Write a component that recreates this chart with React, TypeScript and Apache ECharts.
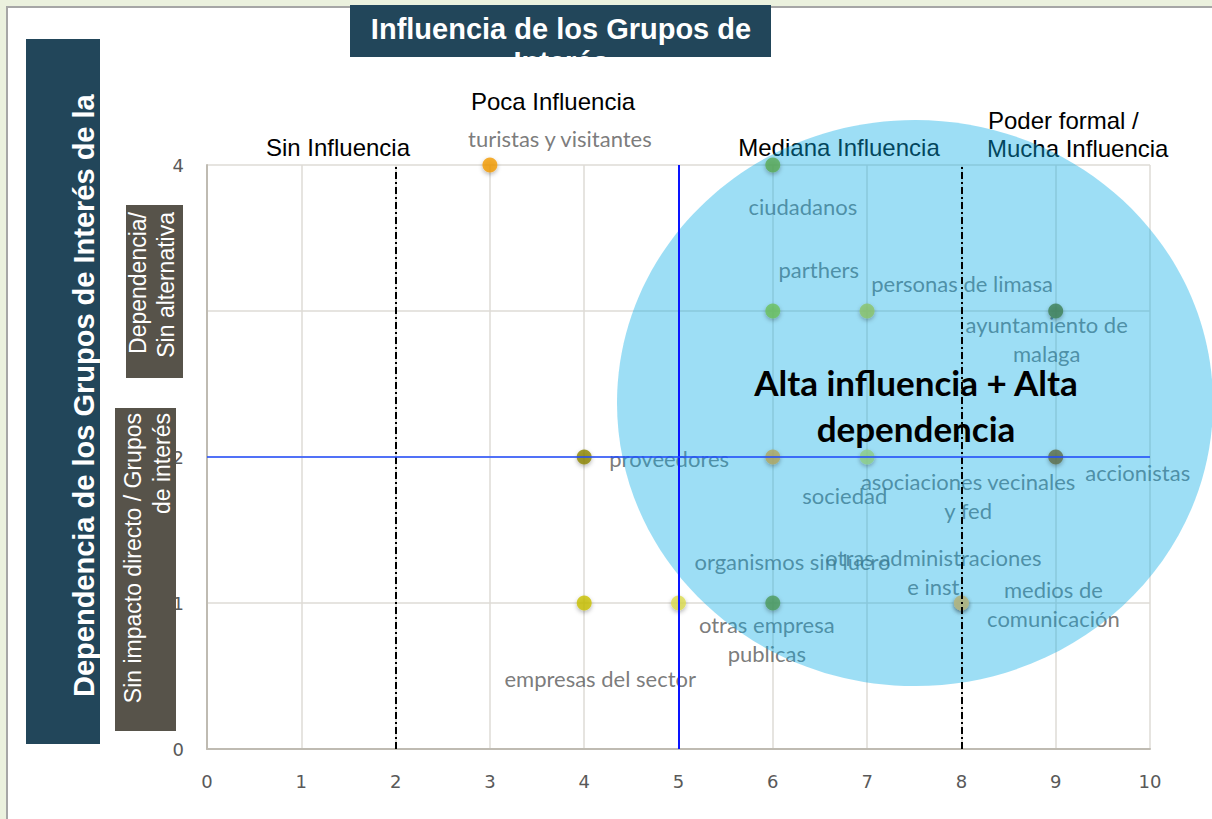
import React, { useEffect, useRef } from "react";
import * as echarts from "echarts";

// ---- data ----
const grupos = [
  "turistas y visitantes",
  "ciudadanos",
  "parthers",
  "personas de limasa",
  "ayuntamiento de\nmalaga",
  "proveedores",
  "sociedad",
  "asociaciones vecinales\ny fed",
  "accionistas",
  "empresas del sector",
  "organismos sin lucro",
  "otras empresa\npublicas",
  "otras administraciones\ne inst",
  "medios de\ncomunicación",
];
const influencia = [3, 6, 6, 7, 9, 4, 6, 7, 9, 4, 5, 6, 8, 8];
const dependencia = [4, 4, 3, 3, 3, 2, 2, 2, 2, 1, 1, 1, 1, 1];
const xTicks = [0, 1, 2, 3, 4, 5, 6, 7, 8, 9, 10];
const yTicks = [0, 1, 2, 3, 4];
const umbralesInfluencia = [2, 8];
const separadorX = 5;
const separadorY = 2;

// ---- styling (kept apart from the data) ----
const pointColors = [
  "#f39a00", "#5aaa55", "#6cc05c", "#8cc46a", "#3d8055",
  "#8c8400", "#b0a862", "#8fd08a", "#5f6e4a",
  "#c9c000", "#dcdc50", "#4e9a5c", "#b0b888", "#b0b888",
];
const labelOffsets: number[][] = [
  [70, -27], [30, 41], [46, -42], [95, -28], [-9, 28],
  [85, 1], [72, 38], [101, 39], [82, 15],
  [16, 75], [114, -42], [-6, 36], [-28, -31], [92, 1],
];

const ARIAL = "'Liberation Sans', Arial, sans-serif";
const LABEL_FONT = "Lato, 'Open Sans', sans-serif";

export default function App() {
  const ref = useRef<HTMLDivElement>(null);
  useEffect(() => {
    if (!ref.current) return;
    const chart = echarts.init(ref.current, undefined, { renderer: "svg" });

    const labelData = grupos.map((g, i) => ({
      name: g,
      value: [influencia[i], dependencia[i]],
      label: { offset: labelOffsets[i] },
    }));
    const markerData = grupos.map((g, i) => ({
      name: g,
      value: [influencia[i], dependencia[i]],
      itemStyle: { color: pointColors[i] },
    }));

    const option: any = {
      animation: false,
      backgroundColor: "transparent",
      grid: { left: 207, right: 62, top: 165, bottom: 70 },
      xAxis: {
        type: "value",
        min: xTicks[0],
        max: xTicks[xTicks.length - 1],
        interval: 1,
        axisLine: { show: true, lineStyle: { color: "#bfbbb2", width: 2 } },
        axisTick: { show: false },
        splitLine: { show: true, lineStyle: { color: "#dedbd6", width: 1.5 } },
        axisLabel: {
          margin: 23,
          color: "#595959",
          fontFamily: "'DejaVu Sans', sans-serif",
          fontSize: 18,
        },
      },
      yAxis: {
        type: "value",
        min: yTicks[0],
        max: yTicks[yTicks.length - 1],
        interval: 1,
        axisLine: { show: true, lineStyle: { color: "#bfbbb2", width: 2 } },
        axisTick: { show: false },
        splitLine: { show: true, lineStyle: { color: "#dedbd6", width: 1.5 } },
        axisLabel: {
          margin: 23,
          color: "#595959",
          fontFamily: "'DejaVu Sans', sans-serif",
          fontSize: 18,
        },
      },
      series: [
        {
          type: "scatter",
          z: 1,
          symbolSize: 1,
          itemStyle: { color: "rgba(0,0,0,0)" },
          silent: true,
          label: {
            show: true,
            position: "inside",
            formatter: "{b}",
            align: "center",
            verticalAlign: "middle",
            color: "#595959",
            fontFamily: LABEL_FONT,
            fontSize: 22,
            lineHeight: 29,
          },
          data: labelData,
          markLine: {
            silent: true,
            symbol: "none",
            label: { show: false },
            lineStyle: { color: "#000", width: 2, type: [7, 3, 2, 3] },
            data: umbralesInfluencia.map((v) => ({ xAxis: v })),
          },
        },
        {
          type: "scatter",
          z: 4,
          symbolSize: 15,
          itemStyle: {
            shadowBlur: 4,
            shadowColor: "rgba(0,0,0,0.35)",
            shadowOffsetY: 2,
          },
          data: markerData,
        },
        {
          type: "line",
          z: 5,
          data: [],
          markLine: {
            silent: true,
            symbol: "none",
            label: { show: false },
            data: [
              { xAxis: separadorX, lineStyle: { color: "#0a14ff", width: 2, type: "solid" } },
              { yAxis: separadorY, lineStyle: { color: "#1f4bff", width: 1.5, type: "solid" } },
            ],
          },
        },
      ],
      graphic: [
        // title box
        { type: "rect", z: 10, shape: { x: 350, y: 5, width: 421, height: 52 }, style: { fill: "#22465a" } },
        {
          type: "text", z: 11, x: 561, y: 12,
          style: {
            text: "Influencia de los Grupos de\nInterés",
            fill: "#fff", font: `bold 29px ${ARIAL}`, lineHeight: 33,
            align: "center", verticalAlign: "top",
          },
        },
        { type: "rect", z: 12, shape: { x: 345, y: 57, width: 432, height: 32 }, style: { fill: "#fff" } },
        // left title box
        { type: "rect", z: 10, shape: { x: 26, y: 39, width: 74, height: 705 }, style: { fill: "#22465a" } },
        {
          type: "text", z: 11, x: 84, y: 697, rotation: Math.PI / 2,
          style: {
            text: "Dependencia de los Grupos de Interés de la",
            fill: "#fff", font: `bold 29px ${ARIAL}`,
            align: "left", verticalAlign: "middle",
          },
        },
        // gray boxes
        { type: "rect", z: 10, shape: { x: 126, y: 205, width: 57, height: 173 }, style: { fill: "#57534a" } },
        {
          type: "text", z: 11, x: 152, y: 212, rotation: Math.PI / 2,
          style: {
            text: "Dependencia/\nSin alternativa",
            fill: "#fff", font: `23px ${ARIAL}`, lineHeight: 28,
            align: "right", verticalAlign: "middle",
          },
        },
        { type: "rect", z: 10, shape: { x: 115, y: 408, width: 61, height: 323 }, style: { fill: "#57534a" } },
        {
          type: "text", z: 11, x: 147.5, y: 413, rotation: Math.PI / 2,
          style: {
            text: "Sin impacto directo / Grupos\nde interés",
            fill: "#fff", font: `23px ${ARIAL}`, lineHeight: 29,
            align: "right", verticalAlign: "middle",
          },
        },
        // headers
        { type: "text", z: 2, x: 338, y: 147, style: { text: "Sin Influencia", fill: "#000", font: `24px ${ARIAL}`, align: "center", verticalAlign: "middle" } },
        { type: "text", z: 2, x: 553, y: 101, style: { text: "Poca Influencia", fill: "#000", font: `24px ${ARIAL}`, align: "center", verticalAlign: "middle" } },
        { type: "text", z: 2, x: 839, y: 147, style: { text: "Mediana Influencia", fill: "#000", font: `24px ${ARIAL}`, align: "center", verticalAlign: "middle" } },
        { type: "text", z: 2, x: 988, y: 120, style: { text: "Poder formal /", fill: "#000", font: `24px ${ARIAL}`, align: "left", verticalAlign: "middle" } },
        { type: "text", z: 2, x: 987, y: 148, style: { text: "Mucha Influencia", fill: "#000", font: `24px ${ARIAL}`, align: "left", verticalAlign: "middle" } },
        // highlight circle
        {
          type: "ellipse", z: 3,
          shape: { cx: 915, cy: 403, rx: 298, ry: 283 },
          style: { fill: "rgba(10,172,230,0.4)" },
          silent: true,
        },
        {
          type: "text", z: 7, x: 916, y: 405,
          style: {
            text: "Alta influencia + Alta\ndependencia",
            fill: "#000", font: `bold 35px ${LABEL_FONT}`, lineHeight: 46,
            align: "center", verticalAlign: "middle",
          },
        },
      ],
    };
    chart.setOption(option);
    return () => chart.dispose();
  }, []);

  return (
    <div style={{ position: "absolute", left: 0, top: 0, width: 1212, height: 819, background: "#ebf1de", overflow: "hidden" }}>
      <div
        style={{
          position: "absolute", left: 6, top: 6, right: 0, bottom: 0,
          background: "#fff", borderLeft: "2px solid #a6a6a6", borderTop: "2px solid #a6a6a6",
        }}
      />
      <div ref={ref} style={{ position: "absolute", left: 0, top: 0, width: 1212, height: 819 }} />
    </div>
  );
}
